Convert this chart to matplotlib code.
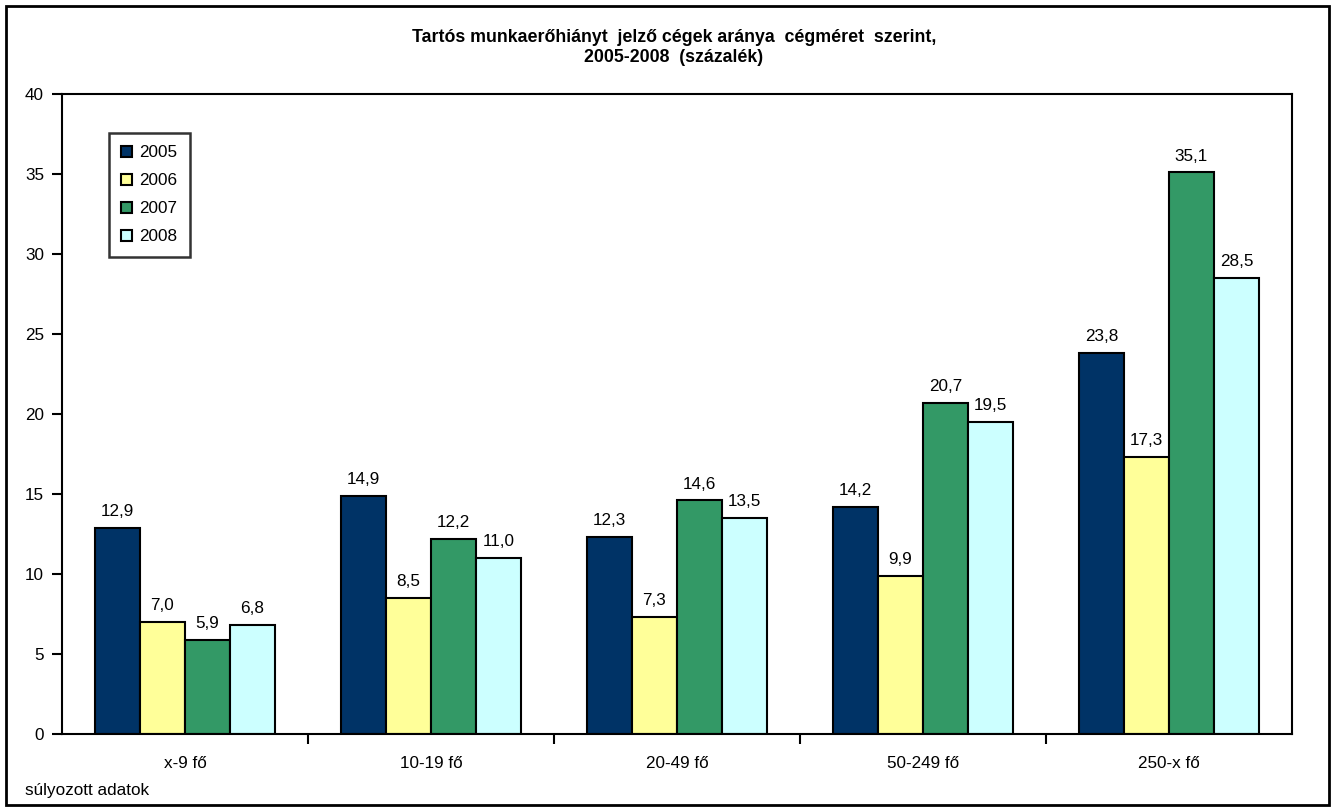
import numpy as np
import matplotlib.pyplot as plt
from matplotlib.patches import Rectangle

plt.rcParams['font.family'] = ['Liberation Sans', 'DejaVu Sans']

# data
categories = ['x-9 fő', '10-19 fő', '20-49 fő', '50-249 fő', '250-x fő']
years = ['2005', '2006', '2007', '2008']
v2005 = [12.9, 14.9, 12.3, 14.2, 23.8]
v2006 = [7.0, 8.5, 7.3, 9.9, 17.3]
v2007 = [5.9, 12.2, 14.6, 20.7, 35.1]
v2008 = [6.8, 11.0, 13.5, 19.5, 28.5]
series = [v2005, v2006, v2007, v2008]
colors = ['#003366', '#FFFF99', '#339966', '#CCFFFF']

W, H = 1335, 811
fs = 12.3
fig = plt.figure(figsize=(W / 100, H / 100), dpi=100)

# outer chart border
fig.patches.append(Rectangle((6 / W, 6 / H), 1 - 12 / W, 1 - 12 / H,
                             transform=fig.transFigure, fill=False,
                             edgecolor='black', linewidth=2))

ax = fig.add_axes([62 / W, 1 - 734 / H, (1292 - 62) / W, (734 - 94) / H])

x = np.arange(len(categories))
bw = 0.183
for i, (vals, c, yr) in enumerate(zip(series, colors, years)):
    pos = x + (i - 1.5) * bw
    ax.bar(pos, vals, width=bw, color=c, edgecolor='black',
           linewidth=1.5, label=yr)
    for xb, v in zip(pos, vals):
        ax.text(xb, v + 0.55, f'{v:.1f}'.replace('.', ','), ha='center',
                va='bottom', fontsize=fs)

ax.set_xlim(-0.5, len(categories) - 0.5)
ax.set_ylim(0, 40)
ax.set_yticks(range(0, 41, 5))
ax.tick_params(axis='y', direction='out', length=7, width=1.5, labelsize=fs, pad=6)
ax.set_xticks(x)
ax.set_xticklabels(categories, fontsize=fs)
ax.tick_params(axis='x', length=0, pad=16)
ax.set_xticks(np.arange(0.5, len(categories) - 0.5, 1), minor=True)
ax.tick_params(axis='x', which='minor', direction='out', length=7, width=1.5)
for s in ax.spines.values():
    s.set_linewidth(1.5)

leg = ax.legend(loc='upper left', bbox_to_anchor=(47 / 1230, 1 - 39 / 640),
                fontsize=fs, frameon=True, fancybox=False, edgecolor='black',
                handlelength=0.6, handleheight=0.6, handletextpad=0.45,
                labelspacing=0.76, borderpad=0.72, borderaxespad=0)
leg.get_frame().set_linewidth(1.8)

fig.text(674 / W, 1 - 38 / H, 'Tartós munkaerőhiányt  jelző cégek aránya  cégméret  szerint,',
         ha='center', va='center', fontsize=12.8, fontweight='bold')
fig.text(674 / W, 1 - 57 / H, '2005-2008  (százalék)',
         ha='center', va='center', fontsize=12.8, fontweight='bold')
fig.text(25 / W, 1 - 790 / H, 'súlyozott adatok', ha='left', va='center', fontsize=fs)

fig.savefig('out.png', dpi=100)
